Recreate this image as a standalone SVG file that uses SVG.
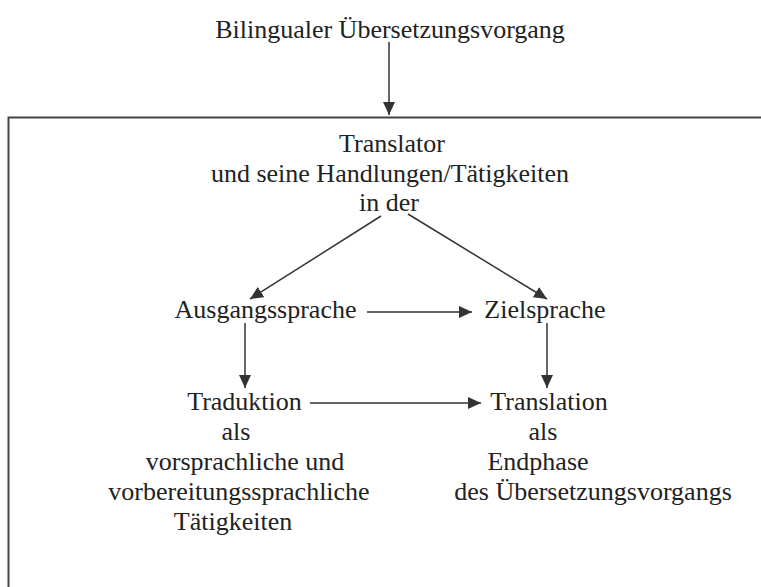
<svg xmlns="http://www.w3.org/2000/svg" width="761" height="587" viewBox="0 0 761 587">
<style>
text{font-family:"Liberation Serif","Times New Roman",serif;font-size:26px;fill:#222;text-anchor:middle}
.ln{stroke:#333;stroke-width:1.5;fill:none}
.frame{stroke:#444;stroke-width:2;fill:none}
</style>
<defs>
<marker id="ah" markerUnits="userSpaceOnUse" markerWidth="14" markerHeight="12" refX="13" refY="6" orient="auto">
<path d="M0,0 L13,6 L0,12 z" fill="#333"/>
</marker>
</defs>
<rect width="761" height="587" fill="#fff"/>
<g id="title"><text x="390" y="38">Bilingualer Übersetzungsvorgang</text></g>
<g id="box"><path class="frame" d="M762,117.5 H8.5 V588"/></g>
<g id="translator">
<text x="392" y="152">Translator</text>
<text x="390" y="182">und seine Handlungen/Tätigkeiten</text>
<text x="389" y="211">in der</text>
</g>
<g id="ausgangssprache"><text x="265.5" y="318">Ausgangssprache</text></g>
<g id="zielsprache"><text x="545" y="318">Zielsprache</text></g>
<g id="traduktion">
<text x="244.5" y="410">Traduktion</text>
<text x="236" y="440">als</text>
<text x="245" y="470">vorsprachliche und</text>
<text x="239" y="500">vorbereitungssprachliche</text>
<text x="233" y="530">Tätigkeiten</text>
</g>
<g id="translation">
<text x="549" y="410">Translation</text>
<text x="543" y="440">als</text>
<text x="538" y="470">Endphase</text>
<text x="593" y="500">des Übersetzungsvorgangs</text>
</g>
<g id="connectors">
<line class="ln" x1="389" y1="42" x2="389" y2="115" marker-end="url(#ah)"/>
<line class="ln" x1="381" y1="216" x2="250" y2="299" marker-end="url(#ah)"/>
<line class="ln" x1="408" y1="214" x2="547" y2="299" marker-end="url(#ah)"/>
<line class="ln" x1="367" y1="312" x2="472" y2="312" marker-end="url(#ah)"/>
<line class="ln" x1="245" y1="323" x2="245" y2="388" marker-end="url(#ah)"/>
<line class="ln" x1="547" y1="323" x2="547" y2="388" marker-end="url(#ah)"/>
<line class="ln" x1="310" y1="403" x2="481" y2="403" marker-end="url(#ah)"/>
</g>
</svg>
